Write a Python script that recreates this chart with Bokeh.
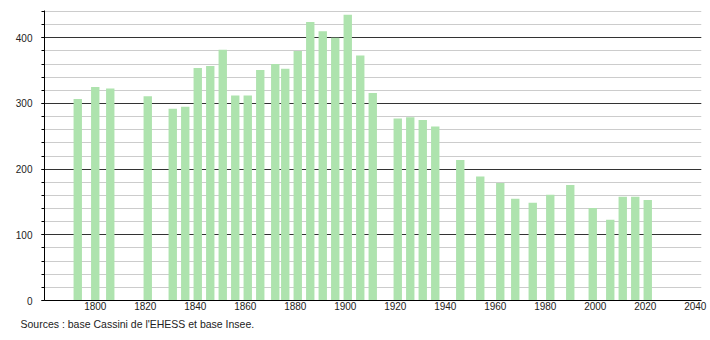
from bokeh.plotting import figure
from bokeh.models import ColumnDataSource, Range1d, FixedTicker, Title
from bokeh.embed import file_html
from bokeh.resources import INLINE

years = [1793, 1800, 1806, 1821, 1831, 1836, 1841, 1846, 1851, 1856, 1861, 1866,
         1872, 1876, 1881, 1886, 1891, 1896, 1901, 1906, 1911, 1921, 1926, 1931,
         1936, 1946, 1954, 1962, 1968, 1975, 1982, 1990, 1999, 2006, 2011, 2016, 2021]
population = [307, 325, 323, 311, 292, 295, 354, 357, 382, 312, 312, 351,
              360, 353, 380, 424, 410, 400, 435, 373, 316, 277, 279, 275,
              265, 214, 189, 179, 155, 149, 161, 176, 141, 123, 158, 158, 153]
x_ticks = [1800, 1820, 1840, 1860, 1880, 1900, 1920, 1940, 1960, 1980, 2000, 2020, 2040]
y_ticks = [0, 100, 200, 300, 400]
source_text = "Sources : base Cassini de l'EHESS et base Insee."

src = ColumnDataSource(dict(x=years, top=population))

p = figure(width=710, height=340, output_backend="svg", toolbar_location=None,
           x_range=Range1d(1779.7, 2042.5), y_range=Range1d(0, 441.6),
           min_border_left=44, min_border_right=9, min_border_top=10, min_border_bottom=40)
p.outline_line_color = None
p.background_fill_color = "white"

p.vbar(x="x", top="top", width=3.35, bottom=0, source=src,
       fill_color="#aee3ae", line_color=None)

# axes
p.xaxis.ticker = FixedTicker(ticks=x_ticks)
p.xaxis.major_tick_line_color = None
p.xaxis.minor_tick_line_color = None
p.xaxis.major_tick_out = 0
p.xaxis.axis_line_color = "black"
p.xaxis.major_label_standoff = 1
p.xaxis.major_label_text_font = "Liberation Sans"
p.xaxis.major_label_text_font_size = "10px"
p.xaxis.major_label_text_color = "#222222"

p.yaxis.ticker = FixedTicker(ticks=y_ticks, minor_ticks=list(range(0, 441, 20)))
p.yaxis.axis_line_color = "black"
p.yaxis.major_tick_out = 3
p.yaxis.major_tick_in = 0
p.yaxis.minor_tick_out = 3
p.yaxis.minor_tick_in = 0
p.yaxis.major_tick_line_color = "black"
p.yaxis.minor_tick_line_color = "black"
p.yaxis.major_label_standoff = 9
p.yaxis.major_label_text_font = "Liberation Sans"
p.yaxis.major_label_text_font_size = "10px"
p.yaxis.major_label_text_color = "#222222"

p.xgrid.grid_line_color = None
p.ygrid.grid_line_color = "#333333"
p.ygrid.minor_grid_line_color = "#cccccc"
p.ygrid.level = "underlay"

t = Title(text=source_text, align="left", offset=-24, text_font="Liberation Sans",
          text_font_size="10.5px", text_font_style="normal", text_color="#222222",
          standoff=7)
p.add_layout(t, "below")

open("out.html", "w").write(file_html(p, INLINE))
